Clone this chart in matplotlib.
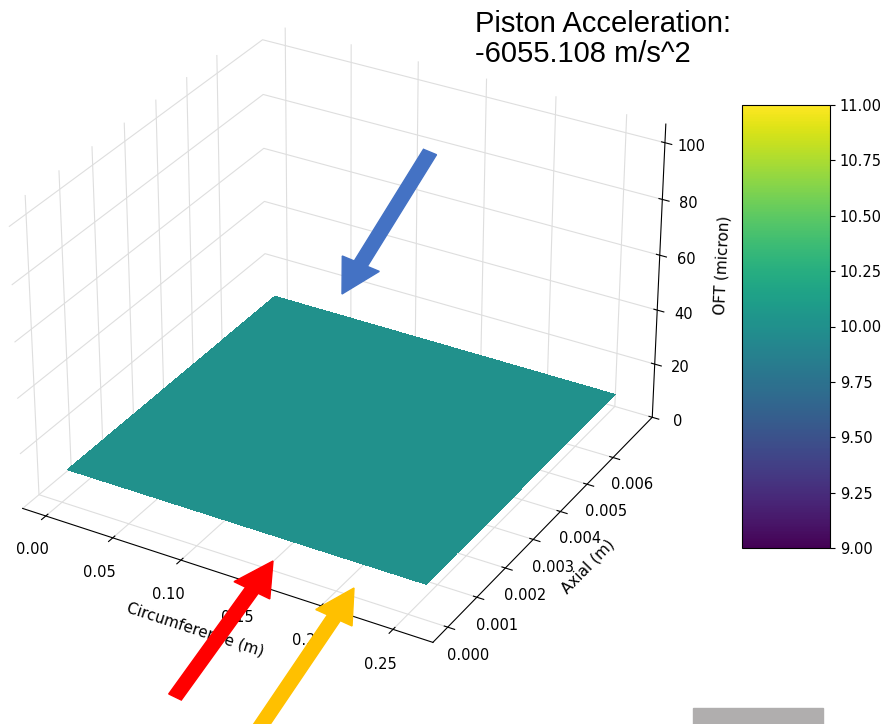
import numpy as np
import matplotlib
matplotlib.use("Agg")
import matplotlib.pyplot as plt
from matplotlib.patches import FancyArrow, Rectangle

# ---- data ----
circumference_range = [0.0, 0.258]    # m  (surface extent)
axial_range = [0.0002, 0.0071]        # m  (surface extent)
oft_value = 10.0                      # micron (flat film)
x_limits = [-0.0175, 0.2773]
y_limits = [-0.0005, 0.00755]
z_limits = [0, 106.5]
cbar_limits = [9.0, 11.0]
cbar_ticks = [9.0, 9.25, 9.5, 9.75, 10.0, 10.25, 10.5, 10.75, 11.0]
x_ticks = [0.00, 0.05, 0.10, 0.15, 0.20, 0.25]
y_ticks = [0.000, 0.001, 0.002, 0.003, 0.004, 0.005, 0.006]
z_ticks = [0, 20, 40, 60, 80, 100]
title_text = "Piston Acceleration:\n-6055.108 m/s^2"

W, H = 884, 724
fig = plt.figure(figsize=(W / 100, H / 100), dpi=100)

ax = fig.add_axes([-0.0876, 0.049, 0.93, 1.0], projection="3d")
nx, ny = 60, 40
x = np.linspace(circumference_range[0], circumference_range[1], nx)
y = np.linspace(axial_range[0], axial_range[1], ny)
X, Y = np.meshgrid(x, y)
Z = np.full_like(X, oft_value)
surf = ax.plot_surface(X, Y, Z, cmap="viridis", vmin=cbar_limits[0], vmax=cbar_limits[1],
                       linewidth=0, antialiased=False, shade=False)
ax.set_xlim(x_limits)
ax.set_ylim(y_limits)
ax.set_zlim(z_limits)
ax.set_xticks(x_ticks)
ax.set_yticks(y_ticks)
ax.set_zticks(z_ticks)
ax.set_xticklabels([f"{v:.2f}" for v in x_ticks])
ax.set_yticklabels([f"{v:.3f}" for v in y_ticks])
ax.set_xlabel("Circumference (m)", fontsize=11, labelpad=8)
ax.set_ylabel("Axial (m)", fontsize=11, labelpad=6)
ax.set_zlabel("OFT (micron)", fontsize=11, labelpad=7)
ax.tick_params(labelsize=10.5)
ax.tick_params(axis="x", pad=6)
ax.tick_params(axis="y", pad=5)
for a in (ax.xaxis, ax.yaxis, ax.zaxis):
    a.set_pane_color((1, 1, 1, 0))
    a._axinfo["grid"]["color"] = (0.87, 0.87, 0.87, 1)
ax.set_box_aspect((4, 4.03, 2.92), zoom=1.005)
ax.view_init(elev=30, azim=-60)

cax = fig.add_axes([742 / W, 1 - 548 / H, 88 / W, 443 / H])
cb = fig.colorbar(surf, cax=cax, ticks=cbar_ticks)
cb.ax.set_yticklabels([f"{v:.2f}" for v in cbar_ticks])
cb.ax.tick_params(labelsize=10.5)

fig.text(475 / W, 1 - 10 / H, title_text, ha="left", va="top",
         fontsize=21, family="Liberation Sans", linespacing=1.1)

def arrow(x0, y0, x1, y1, color):
    fig.patches.append(FancyArrow(x0 / W, 1 - y0 / H, (x1 - x0) / W, -(y1 - y0) / H,
                                  width=12 / H, head_width=34 / H, head_length=34 / H,
                                  length_includes_head=True, color=color,
                                  transform=fig.transFigure, figure=fig))

arrow(430, 152, 342, 294, "#4472c4")
arrow(175, 697, 273, 561, "#ff0000")
arrow(258, 730, 354, 588, "#ffc000")

fig.patches.append(Rectangle((693 / W, 0), 130 / W, 16 / H, color="#b0aeae",
                             transform=fig.transFigure, figure=fig))

fig.savefig("out.png", dpi=100)
